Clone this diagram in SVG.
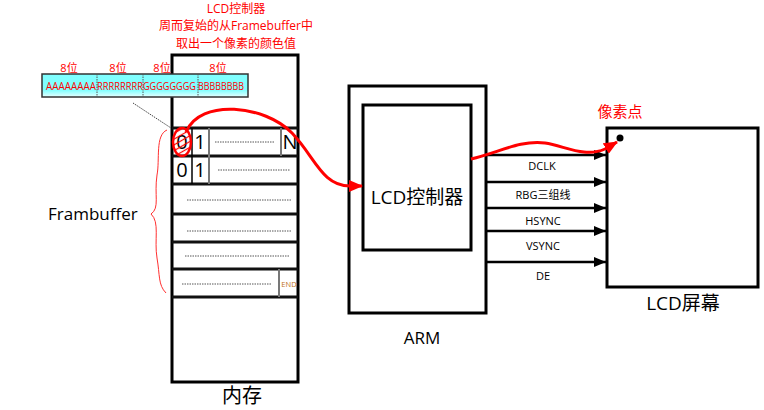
<svg xmlns="http://www.w3.org/2000/svg" width="764" height="410" viewBox="0 0 764 410">
<style>
text{font-family:"Open Sans","Noto Sans CJK SC",sans-serif;}
.red{fill:#ff0000;}
.box{fill:#fff;stroke:#000;stroke-width:3;}
.row{stroke:#111;stroke-width:3;}
.div{stroke:#777;stroke-width:2;}
.dots{stroke:#555;stroke-width:1;stroke-dasharray:1.5 1;}
.sig{stroke:#000;stroke-width:2.5;fill:none;}
.lbl{font-size:11px;text-anchor:middle;fill:#000;}
.cell{font-size:20px;text-anchor:middle;fill:#000;}
</style>
<defs>
<marker id="ab" markerWidth="12" markerHeight="10" refX="12" refY="5" orient="auto" markerUnits="userSpaceOnUse">
<path d="M0,0 L12,5 L0,10 Z" fill="#000"/>
</marker>
<marker id="ar" markerWidth="14" markerHeight="12" refX="13" refY="6" orient="auto" markerUnits="userSpaceOnUse">
<path d="M0,0 L14,6 L0,12 Z" fill="#ff0000"/>
</marker>
<linearGradient id="cy" x1="0" y1="0" x2="0" y2="1">
<stop offset="0" stop-color="#80ffff"/>
<stop offset="0.7" stop-color="#80ffff"/>
<stop offset="1" stop-color="#e8ffff"/>
</linearGradient>
<pattern id="hatch" width="5" height="5" patternUnits="userSpaceOnUse" patternTransform="rotate(-30)">
<line x1="0" y1="2.5" x2="5" y2="2.5" stroke="#ff0000" stroke-width="1.2"/>
</pattern>
</defs>

<g id="title">
<text x="236" y="13" font-size="12" text-anchor="middle" class="red">LCD控制器</text>
<text x="236" y="30" font-size="12" text-anchor="middle" class="red">周而复始的从Framebuffer中</text>
<text x="236" y="48" font-size="12" text-anchor="middle" class="red">取出一个像素的颜色值</text>
</g>

<g id="memory">
<rect class="box" x="172" y="55" width="126" height="327"/>
<line class="row" x1="172" y1="128" x2="298" y2="128"/>
<line class="row" x1="172" y1="156" x2="298" y2="156"/>
<line class="row" x1="172" y1="184" x2="298" y2="184"/>
<line class="row" x1="172" y1="214" x2="298" y2="214"/>
<line class="row" x1="172" y1="242" x2="298" y2="242"/>
<line class="row" x1="172" y1="269" x2="298" y2="269"/>
<line class="row" x1="172" y1="297" x2="298" y2="297"/>
<line x1="192" y1="128" x2="192" y2="184" stroke="#000" stroke-width="1.5"/>
<line class="div" x1="209" y1="128" x2="209" y2="184"/>
<line class="div" x1="281" y1="128" x2="281" y2="156"/>
<line class="div" x1="279" y1="269" x2="279" y2="297"/>
<text class="cell" x="182" y="149">0</text>
<text class="cell" x="200" y="149">1</text>
<text class="cell" x="290" y="149">N</text>
<text class="cell" x="182" y="177">0</text>
<text class="cell" x="200" y="177">1</text>
<line class="dots" x1="215" y1="142" x2="275" y2="142"/>
<line class="dots" x1="218" y1="170" x2="290" y2="170"/>
<line class="dots" x1="187" y1="200" x2="291" y2="200"/>
<line class="dots" x1="187" y1="231" x2="291" y2="231"/>
<line class="dots" x1="185" y1="256" x2="289" y2="256"/>
<line class="dots" x1="182" y1="284" x2="272" y2="284"/>
<text x="289" y="287" font-size="7.5" text-anchor="middle" fill="#c07020" font-family="Liberation Sans,sans-serif">END</text>
<text x="242" y="403" font-size="20" text-anchor="middle" fill="#000">内存</text>
</g>

<g id="bits">
<rect x="42" y="74" width="206" height="23" fill="url(#cy)" stroke="#333" stroke-width="1.5"/>
<line class="dots" x1="97" y1="74" x2="97" y2="97" stroke="#333"/>
<line class="dots" x1="143" y1="74" x2="143" y2="97" stroke="#333"/>
<line class="dots" x1="198" y1="74" x2="198" y2="97" stroke="#333"/>
<text x="46" y="90" font-size="10" class="red" textLength="50" lengthAdjust="spacingAndGlyphs">AAAAAAAA</text>
<text x="97" y="90" font-size="10" class="red" textLength="46" lengthAdjust="spacingAndGlyphs">RRRRRRRR</text>
<text x="143" y="90" font-size="10" class="red" textLength="53" lengthAdjust="spacingAndGlyphs">GGGGGGGG</text>
<text x="198" y="90" font-size="10" class="red" textLength="46" lengthAdjust="spacingAndGlyphs">BBBBBBBB</text>
<text x="69" y="72" font-size="11" text-anchor="middle" class="red">8位</text>
<text x="118" y="72" font-size="11" text-anchor="middle" class="red">8位</text>
<text x="162" y="72" font-size="11" text-anchor="middle" class="red">8位</text>
<text x="218" y="72" font-size="11" text-anchor="middle" class="red">8位</text>
</g>

<g id="framebuffer">
<path d="M167,130 C155,135 160,160 157,175 C154,195 160,208 151,214 C160,222 154,240 157,258 C160,275 158,285 166,293" fill="none" stroke="#ff3030" stroke-width="1"/>
<text x="48" y="220" font-size="17" fill="#000">Frambuffer</text>
</g>

<g id="pixel-mark">
<ellipse cx="182" cy="142" rx="9" ry="14" fill="url(#hatch)" stroke="#ff0000" stroke-width="2.5"/>
</g>

<g id="arm">
<rect class="box" x="349" y="86" width="137" height="227"/>
<rect class="box" x="363" y="105" width="108" height="145"/>
<text x="417" y="204" font-size="19" text-anchor="middle" fill="#000">LCD控制器</text>
<text x="422" y="344" font-size="17" text-anchor="middle" fill="#000">ARM</text>
</g>

<g id="screen">
<rect class="box" x="607" y="128" width="151" height="159"/>
<circle cx="620" cy="138" r="3.5" fill="#000"/>
<text x="620" y="117" font-size="15" text-anchor="middle" class="red">像素点</text>
<text x="683" y="310" font-size="19" text-anchor="middle" fill="#000">LCD屏幕</text>
</g>

<g id="connectors">
<line x1="133" y1="103" x2="171" y2="128" stroke="#444" stroke-width="1" stroke-dasharray="1.5 1"/>
<line class="sig" x1="486" y1="155" x2="606" y2="155" marker-end="url(#ab)"/>
<line class="sig" x1="486" y1="182" x2="606" y2="182" marker-end="url(#ab)"/>
<line class="sig" x1="486" y1="208" x2="606" y2="208" marker-end="url(#ab)"/>
<line class="sig" x1="486" y1="231" x2="606" y2="231" marker-end="url(#ab)"/>
<line class="sig" x1="486" y1="262" x2="606" y2="262" marker-end="url(#ab)"/>
<text class="lbl" x="542" y="170">DCLK</text>
<text class="lbl" x="543" y="199">RBG三组线</text>
<text class="lbl" x="543" y="225">HSYNC</text>
<text class="lbl" x="543" y="250">VSYNC</text>
<text class="lbl" x="543" y="280">DE</text>
<path d="M186,132 C200,98 265,105 292,133 C315,157 322,186 350,186 L362,186" fill="none" stroke="#ff0000" stroke-width="3" marker-end="url(#ar)"/>
<path d="M471,159 C500,152 520,140 545,143 C565,146 585,158 605,149 L617,142" fill="none" stroke="#ff0000" stroke-width="3" marker-end="url(#ar)"/>
</g>
</svg>
